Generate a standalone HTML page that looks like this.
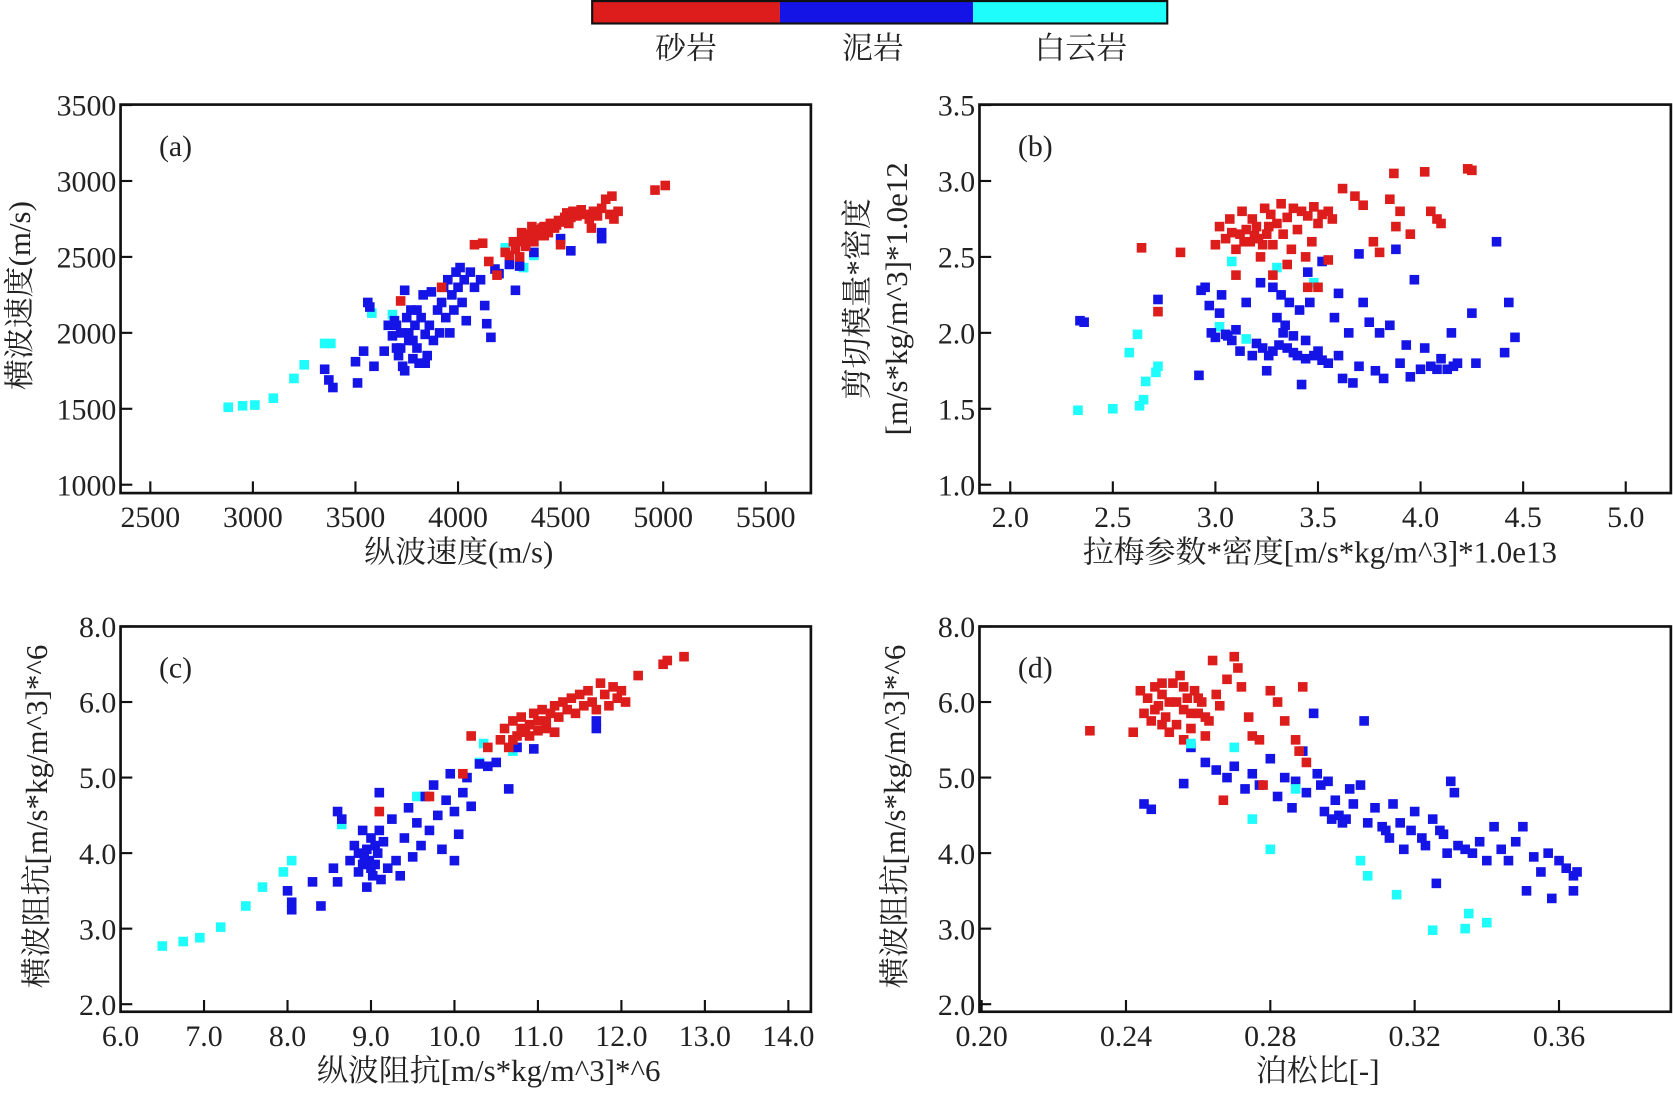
<!DOCTYPE html>
<html><head><meta charset="utf-8">
<style>
html,body{margin:0;padding:0;background:#fff;}
svg{display:block;}
text{font-family:"Liberation Serif","Noto Serif CJK SC","Noto Sans CJK SC",serif;fill:#222;}
</style></head>
<body>
<svg id="fig" width="1673" height="1095" viewBox="0 0 1568 1026" preserveAspectRatio="none" xmlns="http://www.w3.org/2000/svg">
  <g>
    <rect x="555" y="1" width="176" height="21" fill="#dd1c1c"/>
    <rect x="731" y="1" width="181" height="21" fill="#1414e6"/>
    <rect x="912" y="1" width="182" height="21" fill="#1ffcfc"/>
    <rect x="555" y="1" width="539" height="21" fill="none" stroke="#111" stroke-width="2"/>
    <text x="643" y="55" font-size="29" text-anchor="middle">砂岩</text>
    <text x="818" y="55" font-size="29" text-anchor="middle">泥岩</text>
    <text x="1013" y="55" font-size="29" text-anchor="middle">白云岩</text>
  </g>
</svg>
<script>
// ---------- Panel (a) data ----------
const aCyan=[[2880,1510],[2950,1520],[3010,1525],[3100,1570],[3200,1700],[3250,1790],[3350,1930],[3380,1930],[3580,2130],[3680,2120],[4320,2430],[4370,2510],[4230,2560]];
const aBlue=[[3350,1760],[3370,1690],[3390,1640],[3500,1810],[3510,1670],[3540,1880],[3590,1780],[3560,2200],[3570,2170],[3640,1880],[3660,2050],[3680,1980],[3690,2080],[3700,1900],[3710,1850],[3720,2000],[3730,1780],[3740,1750],[3740,2280],[3750,2100],[3760,1950],[3770,2150],[3780,1830],[3790,2050],[3800,1900],[3810,1800],[3820,2100],[3830,2250],[3840,1990],[3850,1850],[3860,2050],[3870,2270],[3880,1950],[3900,2150],[3910,2000],[3920,2200],[3930,2300],[3940,2100],[3950,2350],[3960,2000],[3970,2250],[3980,2150],[3990,2400],[4000,2300],[4010,2430],[4020,2200],[4030,2350],[4040,2080],[4060,2400],[4080,2300],[4110,2350],[4130,2180],[4140,2060],[4160,1970],[4180,2420],[4200,2390],[4250,2450],[4280,2280],[4300,2440],[4370,2530],[4500,2620],[4550,2540],[4700,2620],[4700,2660],[3700,2050],[3760,2000],[3720,1900],[3780,1950],[3800,2150],[3840,1800]];
const aRed=[[4080,2580],[4120,2590],[4150,2470],[4190,2380],[4230,2530],[3720,2210],[3920,2300],[4280,2550],[4300,2600],[4320,2620],[4330,2570],[4350,2650],[4370,2600],[4390,2680],[4400,2640],[4420,2700],[4440,2660],[4450,2720],[4470,2690],[4490,2740],[4500,2580],[4520,2760],[4540,2720],[4560,2800],[4580,2770],[4600,2810],[4620,2780],[4640,2750],[4650,2690],[4660,2800],[4680,2770],[4700,2820],[4720,2880],[4740,2780],[4750,2900],[4760,2750],[4780,2800],[4960,2940],[5010,2970],[4300,2500],[4250,2510],[4360,2700],[4420,2640],[4480,2710],[4530,2790],[4270,2600],[4310,2660],[4340,2610],[4380,2640],[4410,2690],[4460,2720],[4510,2730],[4550,2760]];
const aXTicks=[2500,3000,3500,4000,4500,5000,5500];
const aYTicks=[1000,1500,2000,2500,3000,3500];
const aXLabels=["2500","3000","3500","4000","4500","5000","5500"];
const aYLabels=["1000","1500","2000","2500","3000","3500"];
// ---------- Panel (b) data ----------
const bCyan=[[2.33,1.49],[2.50,1.50],[2.58,1.87],[2.62,1.99],[2.63,1.52],[2.65,1.56],[2.66,1.68],[2.71,1.74],[2.72,1.78],[3.02,2.04],[3.08,2.47],[3.30,2.43],[3.48,2.33],[3.15,1.96]];
const bBlue=[[2.34,2.08],[2.36,2.07],[2.72,2.22],[2.92,1.72],[2.93,2.28],[2.95,2.30],[2.97,2.18],[2.98,2.00],[3.00,1.97],[3.02,2.13],[3.03,2.25],[3.05,1.99],[3.08,1.95],[3.10,2.02],[3.12,1.88],[3.15,2.20],[3.18,1.85],[3.20,1.93],[3.22,2.33],[3.23,1.90],[3.25,1.75],[3.26,1.85],[3.28,2.30],[3.30,2.10],[3.31,1.92],[3.32,2.25],[3.34,2.05],[3.35,1.90],[3.36,2.20],[3.38,1.98],[3.40,1.85],[3.41,2.15],[3.42,1.66],[3.44,1.95],[3.45,2.40],[3.46,2.20],[3.48,1.85],[3.50,1.88],[3.52,2.47],[3.55,1.80],[3.58,2.10],[3.60,1.85],[3.62,1.70],[3.65,2.00],[3.67,1.67],[3.70,1.78],[3.72,2.20],[3.75,2.07],[3.78,1.75],[3.80,2.00],[3.82,1.70],[3.85,2.05],[3.88,2.55],[3.90,1.80],[3.93,1.92],[3.95,1.71],[3.97,2.35],[4.00,1.76],[4.02,1.90],[4.05,1.78],[4.08,1.76],[4.10,1.83],[4.13,1.76],[4.15,2.00],[4.16,1.78],[4.18,1.80],[4.25,2.13],[4.27,1.80],[4.37,2.60],[4.41,1.87],[4.43,2.20],[4.46,1.97],[3.60,2.26],[3.70,2.52],[3.06,1.98],[3.28,1.88],[3.33,2.00],[3.44,1.83],[3.52,1.82],[3.38,1.87]];
const bRed=[[2.64,2.56],[2.72,2.14],[2.83,2.53],[3.00,2.58],[3.02,2.70],[3.05,2.62],[3.07,2.75],[3.10,2.55],[3.12,2.65],[3.13,2.80],[3.15,2.68],[3.17,2.60],[3.18,2.75],[3.20,2.70],[3.22,2.50],[3.24,2.82],[3.25,2.65],[3.27,2.78],[3.28,2.58],[3.30,2.72],[3.32,2.85],[3.33,2.65],[3.35,2.76],[3.37,2.55],[3.38,2.82],[3.40,2.68],[3.42,2.80],[3.44,2.50],[3.45,2.77],[3.47,2.60],[3.48,2.83],[3.50,2.72],[3.52,2.78],[3.55,2.80],[3.57,2.75],[3.62,2.95],[3.68,2.90],[3.72,2.84],[3.77,2.60],[3.80,2.53],[3.85,2.88],[3.87,3.05],[3.88,2.70],[3.90,2.80],[3.95,2.65],[4.02,3.06],[4.05,2.80],[4.08,2.75],[4.10,2.72],[4.23,3.08],[4.25,3.07],[3.28,2.38],[3.35,2.45],[3.45,2.30],[3.50,2.30],[3.10,2.38],[3.55,2.48],[3.08,2.66],[3.14,2.60],[3.19,2.64],[3.23,2.58],[3.26,2.70],[3.21,2.62]];
const bXTicks=[2.0,2.5,3.0,3.5,4.0,4.5,5.0];
const bYTicks=[1.0,1.5,2.0,2.5,3.0,3.5];
const bXLabels=["2.0","2.5","3.0","3.5","4.0","4.5","5.0"];
const bYLabels=["1.0","1.5","2.0","2.5","3.0","3.5"];
// ---------- Panel (c) data ----------
const cCyan=[[6.5,2.77],[6.75,2.83],[6.95,2.88],[7.2,3.02],[7.5,3.30],[7.7,3.55],[7.95,3.75],[8.05,3.90],[8.65,4.38],[10.35,5.45],[10.7,5.35],[9.55,4.75],[10.3,5.2]];
const cBlue=[[8.0,3.50],[8.05,3.25],[8.05,3.35],[8.3,3.62],[8.4,3.30],[8.55,3.80],[8.6,3.62],[8.6,4.55],[8.65,4.45],[8.75,3.90],[8.8,4.10],[8.85,3.75],[8.9,4.30],[8.92,3.95],[8.95,4.05],[8.95,3.55],[9.0,4.20],[9.02,3.70],[9.05,3.85],[9.08,4.00],[9.1,4.80],[9.12,3.65],[9.15,4.15],[9.2,3.80],[9.25,4.45],[9.3,3.90],[9.35,3.70],[9.4,4.20],[9.45,4.60],[9.5,3.95],[9.55,4.40],[9.6,4.10],[9.65,4.75],[9.7,4.30],[9.75,4.90],[9.8,4.50],[9.85,4.05],[9.9,4.70],[9.95,5.05],[10.0,4.55],[10.0,3.90],[10.05,4.25],[10.1,4.80],[10.15,5.00],[10.2,4.62],[10.3,5.18],[10.4,5.15],[10.5,5.20],[10.65,4.85],[10.75,5.40],[10.95,5.38],[11.2,5.60],[11.7,5.75],[11.7,5.65],[8.85,4.00],[8.98,3.90],[9.05,4.10],[9.0,3.80],[9.1,4.30],[8.9,3.85]];
const cRed=[[9.1,4.55],[9.7,4.75],[10.1,5.05],[10.2,5.55],[10.4,5.40],[10.55,5.50],[10.6,5.65],[10.65,5.40],[10.7,5.75],[10.75,5.55],[10.8,5.80],[10.85,5.60],[10.9,5.70],[10.95,5.85],[11.0,5.62],[11.05,5.90],[11.1,5.75],[11.15,5.85],[11.2,5.95],[11.25,5.80],[11.3,6.00],[11.35,5.90],[11.4,6.05],[11.45,5.85],[11.5,6.10],[11.55,5.95],[11.6,6.15],[11.65,6.00],[11.7,5.90],[11.75,6.25],[11.8,6.10],[11.85,5.95],[11.9,6.20],[11.95,6.05],[12.0,6.15],[12.05,6.00],[12.2,6.35],[12.5,6.50],[12.55,6.55],[12.75,6.60],[11.2,5.60],[10.7,5.50],[10.8,5.65],[10.9,5.55],[11.0,5.75],[11.1,5.65]];
const cXTicks=[6,7,8,9,10,11,12,13,14];
const cYTicks=[2,3,4,5,6,7];
const cXLabels=["6.0","7.0","8.0","9.0","10.0","11.0","12.0","13.0","14.0"];
const cYLabels=["2.0","3.0","4.0","5.0","6.0","8.0"];
// ---------- Panel (d) data ----------
const dRed=[[0.230,5.62],[0.242,5.60],[0.244,6.15],[0.245,5.85],[0.246,6.05],[0.247,5.75],[0.248,6.20],[0.249,5.95],[0.250,6.10],[0.251,5.80],[0.252,6.00],[0.253,6.25],[0.254,5.70],[0.255,6.35],[0.256,5.90],[0.257,6.05],[0.258,5.65],[0.259,6.15],[0.260,5.85],[0.261,6.00],[0.262,5.55],[0.263,5.75],[0.264,6.55],[0.265,6.10],[0.266,5.95],[0.267,4.70],[0.268,6.30],[0.270,6.60],[0.271,6.45],[0.272,6.20],[0.274,5.80],[0.275,5.55],[0.277,5.50],[0.278,4.90],[0.280,6.15],[0.282,6.00],[0.284,5.75],[0.287,5.50],[0.288,5.35],[0.289,6.20],[0.290,5.20],[0.256,5.50],[0.252,5.60],[0.248,5.90],[0.250,5.70],[0.254,6.00],[0.258,5.85],[0.260,6.05],[0.262,5.80],[0.256,6.20],[0.250,6.25]];
const dBlue=[[0.245,4.65],[0.247,4.58],[0.256,4.92],[0.258,5.40],[0.262,5.20],[0.265,5.10],[0.268,5.00],[0.270,5.15],[0.273,4.85],[0.275,5.05],[0.277,4.90],[0.280,5.25],[0.282,4.75],[0.284,5.00],[0.286,4.60],[0.287,4.95],[0.289,5.35],[0.290,4.80],[0.292,5.85],[0.293,5.05],[0.295,4.55],[0.296,4.95],[0.297,4.45],[0.298,4.70],[0.300,4.40],[0.302,4.85],[0.303,4.65],[0.305,4.90],[0.306,5.75],[0.307,4.40],[0.309,4.60],[0.311,4.35],[0.313,4.20],[0.314,4.65],[0.316,4.40],[0.317,4.05],[0.319,4.30],[0.320,4.55],[0.322,4.20],[0.323,4.10],[0.325,4.45],[0.326,3.60],[0.327,4.30],[0.329,4.00],[0.330,4.95],[0.331,4.80],[0.332,4.10],[0.334,4.05],[0.336,4.00],[0.338,4.15],[0.340,3.90],[0.342,4.35],[0.344,4.05],[0.346,3.90],[0.348,4.15],[0.350,4.35],[0.351,3.50],[0.353,3.95],[0.355,3.75],[0.357,4.00],[0.358,3.40],[0.360,3.90],[0.362,3.80],[0.364,3.70],[0.365,3.75],[0.364,3.50],[0.299,4.50],[0.301,4.45],[0.294,4.90],[0.312,4.30],[0.328,4.25]];
const dCyan=[[0.275,4.45],[0.280,4.05],[0.287,4.85],[0.305,3.90],[0.307,3.70],[0.315,3.45],[0.325,2.98],[0.334,3.00],[0.335,3.20],[0.340,3.08],[0.258,5.45],[0.270,5.40]];
const dXTicks=[0.20,0.24,0.28,0.32,0.36];
const dYTicks=[2,3,4,5,6,7];
const dXLabels=["0.20","0.24","0.28","0.32","0.36"];
const dYLabels=["2.0","3.0","4.0","5.0","6.0","8.0"];

const NS="http://www.w3.org/2000/svg";
const svg=document.getElementById('fig');
const COL={red:"#dd1c1c",blue:"#1414e6",cyan:"#1ffcfc"};
function mk(tag,attrs,parent){const e=document.createElementNS(NS,tag);for(const k in attrs)e.setAttribute(k,attrs[k]);(parent||svg).appendChild(e);return e;}

function panel(cfg){
  const g=mk('g',{});
  
  
  const sx=v=>cfg.x0+(v-cfg.xmin)/(cfg.xmax-cfg.xmin)*(cfg.x1-cfg.x0);
  const sy=v=>cfg.y1-(v-cfg.ymin)/(cfg.ymax-cfg.ymin)*(cfg.y1-cfg.y0);
  cfg.series.forEach(s=>{
    const sg=mk('g',{},g);
    
    
    s.data.forEach(p=>{
      const r=mk('rect',{x:(sx(p[0])-4.5).toFixed(1),y:(sy(p[1])-4.5).toFixed(1),width:9,height:9,fill:COL[s.color]},sg);
      
      
    });
  });
  const fr=mk('rect',{x:cfg.x0,y:cfg.y0,width:cfg.x1-cfg.x0,height:cfg.y1-cfg.y0,fill:'none',stroke:'#111','stroke-width':2.5},g);
  
  
  cfg.xt.forEach((v,i)=>{
    const X=sx(v);
    const t=mk('line',{x1:X,x2:X,y1:cfg.y1,y2:cfg.y1-11,stroke:'#111','stroke-width':2},g);
    
    
    const l=mk('text',{x:X,y:cfg.y1+32,'font-size':28,'text-anchor':'middle'},g);
    l.textContent=cfg.xl[i];
    
    
  });
  cfg.yt.forEach((v,i)=>{
    const Y=sy(v);
    const t=mk('line',{x1:cfg.x0,x2:cfg.x0+11,y1:Y,y2:Y,stroke:'#111','stroke-width':2},g);
    
    
    const l=mk('text',{x:cfg.x0-4,y:Y+10,'font-size':28,'text-anchor':'end'},g);
    l.textContent=cfg.yl[i];
    
    
  });
  const pl=mk('text',{x:cfg.x0+36,y:cfg.y0+48,'font-size':28},g);
  pl.textContent='('+cfg.id+')';
  
  
  const xt=mk('text',{x:cfg.xlabX,y:cfg.y1+65,'font-size':29,'text-anchor':'middle'},g);
  xt.textContent=cfg.xlabel;
  
  
  cfg.ylabels.forEach(yl=>{
    const yt=mk('text',{x:0,y:0,'font-size':29,'text-anchor':'middle',transform:'translate('+yl.x+','+yl.y+') rotate(-90)'},g);
    yt.textContent=yl.t;
    
    
  });
}

panel({id:'a',x0:113,x1:760,y0:98,y1:462,xmin:2355,xmax:5720,ymin:945,ymax:3503,
  xt:aXTicks,xl:aXLabels,yt:aYTicks,yl:aYLabels,xlabel:'纵波速度(m/s)',xlabX:430,
  ylabels:[{t:'横波速度(m/s)',x:28,y:277}],
  series:[{name:'dolomite',color:'cyan',data:aCyan},{name:'mudstone',color:'blue',data:aBlue},{name:'sandstone',color:'red',data:aRed}]});
panel({id:'b',x0:918,x1:1566,y0:98,y1:462,xmin:1.85,xmax:5.22,ymin:0.945,ymax:3.503,
  xt:bXTicks,xl:bXLabels,yt:bYTicks,yl:bYLabels,xlabel:'拉梅参数*密度[m/s*kg/m^3]*1.0e13',xlabX:1237,
  ylabels:[{t:'剪切模量*密度',x:813,y:280},{t:'[m/s*kg/m^3]*1.0e12',x:850,y:280}],
  series:[{name:'dolomite',color:'cyan',data:bCyan},{name:'mudstone',color:'blue',data:bBlue},{name:'sandstone',color:'red',data:bRed}]});
panel({id:'c',x0:113,x1:760,y0:587,y1:948,xmin:6.0,xmax:14.27,ymin:1.9,ymax:7.0,
  xt:cXTicks,xl:cXLabels,yt:cYTicks,yl:cYLabels,xlabel:'纵波阻抗[m/s*kg/m^3]*^6',xlabX:458,
  ylabels:[{t:'横波阻抗[m/s*kg/m^3]*^6',x:44,y:765}],
  series:[{name:'dolomite',color:'cyan',data:cCyan},{name:'mudstone',color:'blue',data:cBlue},{name:'sandstone',color:'red',data:cRed}]});
panel({id:'d',x0:918,x1:1566,y0:587,y1:948,xmin:0.1994,xmax:0.391,ymin:1.9,ymax:7.0,
  xt:dXTicks,xl:dXLabels,yt:dYTicks,yl:dYLabels,xlabel:'泊松比[-]',xlabX:1235,
  ylabels:[{t:'横波阻抗[m/s*kg/m^3]*^6',x:848,y:765}],
  series:[{name:'mudstone',color:'blue',data:dBlue},{name:'sandstone',color:'red',data:dRed},{name:'dolomite',color:'cyan',data:dCyan}]});
</script>
</body></html>
